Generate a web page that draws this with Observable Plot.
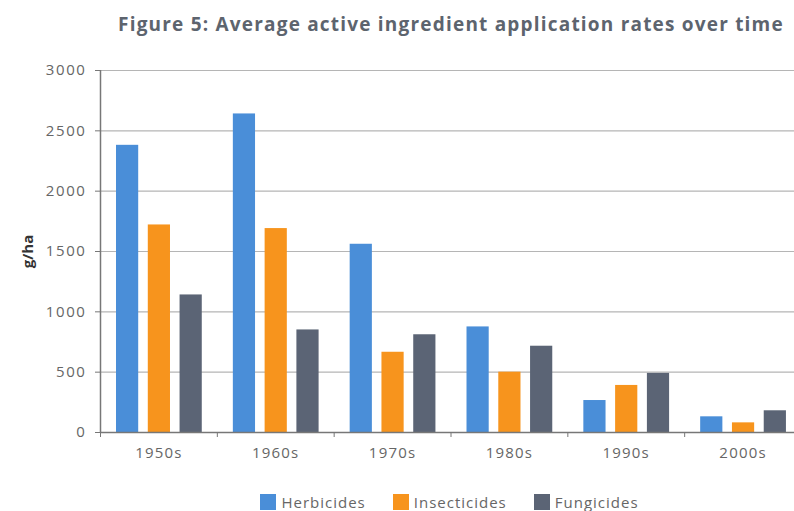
<!DOCTYPE html>
<html>
<head>
<meta charset="utf-8">
<script src="https://cdn.jsdelivr.net/npm/d3@7"></script>
<script src="https://cdn.jsdelivr.net/npm/@observablehq/plot@0.6"></script>
<style>
  html, body { margin: 0; padding: 0; background: #fff; overflow: hidden; }
  body { width: 794px; height: 511px; font-family: "Open Sans", sans-serif; }
  #title {
    height: 44px; box-sizing: border-box; padding: 11px 0 0 118px;
    font-size: 19px; font-weight: 700; color: #5d646e; white-space: nowrap; letter-spacing: 1.2px;
  }
  #chart svg { display: block; overflow: visible; }
  #chart svg g[aria-label="y-axis tick label"] text { letter-spacing: 1.6px; }
  #chart svg g[aria-label="x-axis tick label"] text { letter-spacing: 1.2px; }
  #chart svg [aria-label="y-axis label"] text { font-weight: 700; fill: #333; letter-spacing: 0; }
  #legend { margin-top: 11px; }
  div.leg-swatches { justify-content: center; font-size: 15px; color: #666; padding-left: 132px; letter-spacing: 1px; }
  div.leg-swatches .leg-swatch { margin-right: 27px !important; }
  div.leg-swatches .leg-swatch > svg { margin-right: 5px !important; }
</style>
</head>
<body>
<div id="title">Figure 5: Average active ingredient application rates over time</div>
<div id="chart"></div>
<div id="legend"></div>
<script>
// Decades on the x axis and the three pesticide classes
const decades = ["1950s", "1960s", "1970s", "1980s", "1990s", "2000s"];
const series = ["Herbicides", "Insecticides", "Fungicides"];
const colors = ["#4a8ed8", "#f7941d", "#5b6475"];

// Average application rate (g/ha), one value per decade
const herbicides   = [2380, 2640, 1560, 875, 265, 130];
const insecticides = [1720, 1690, 665, 500, 390, 80];
const fungicides   = [1140, 850, 810, 715, 490, 180];

const yTicks = [0, 500, 1000, 1500, 2000, 2500, 3000];

// Long table: one row per bar
const rows = [];
[herbicides, insecticides, fungicides].forEach((vals, j) => {
  vals.forEach((v, i) => rows.push({decade: decades[i], i, j, series: series[j], value: v}));
});

// Each decade occupies one unit on x; bars sit inside it side by side
const barStart = 0.137, barStep = 0.272, barWidth = 0.19;
const x1 = d => d.i + barStart + d.j * barStep;

const chart = Plot.plot({
  width: 794,
  height: 430,
  marginLeft: 100,
  marginRight: -7,
  marginTop: 26,
  marginBottom: 42,
  style: {fontFamily: "Open Sans, sans-serif", fontSize: "15px", color: "#666", background: "transparent"},
  x: {type: "linear", domain: [0, decades.length]},
  y: {domain: [0, 3000]},
  color: {domain: series, range: colors},
  marks: [
    Plot.gridY(yTicks, {stroke: "#b5b5b5", strokeOpacity: 1, strokeWidth: 1.2}),
    Plot.rectY(rows, {x1, x2: d => x1(d) + barWidth, y: "value", fill: "series"}),
    Plot.ruleX([0], {stroke: "#777", strokeWidth: 1.5}),
    Plot.ruleY([0], {stroke: "#777", strokeWidth: 1.5}),
    Plot.axisY(yTicks, {
      tickSize: 5, tickPadding: 9, stroke: "#777", fill: "#666", tickFormat: d3.format("d"),
      label: "g/ha", labelAnchor: "center", labelOffset: 78, labelArrow: "none", fontSize: 15
    }),
    // small ticks at the boundaries between decades
    Plot.axisX(d3.range(0, decades.length + 1), {tickSize: 5, tickFormat: () => "", stroke: "#777", label: null}),
    // decade labels centred under each group
    Plot.axisX(decades.map((d, i) => i + 0.5), {
      tickSize: 0, tickPadding: 15, tickFormat: t => decades[Math.floor(t)], fill: "#666", fontSize: 15, label: null
    })
  ]
});
document.getElementById("chart").append(chart);

const legend = Plot.legend({
  color: {domain: series, range: colors},
  swatchSize: 16,
  className: "leg",
  style: {fontFamily: "Open Sans, sans-serif"}
});
document.getElementById("legend").append(legend);
</script>
</body>
</html>
